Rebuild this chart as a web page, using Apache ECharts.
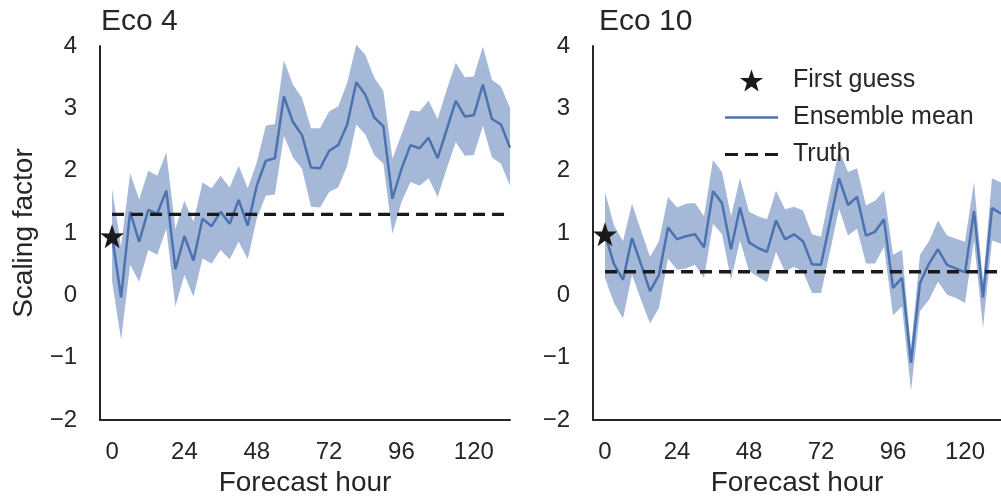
<!DOCTYPE html>
<html>
<head>
<meta charset="utf-8">
<script src="https://cdn.jsdelivr.net/npm/echarts@6/dist/echarts.min.js"></script>
<style>
  html, body { margin: 0; padding: 0; background: #fff; }
  .main { width: 1001px; height: 502px; }
</style>
</head>
<body>
<div class="main"></div>
<script>
// forecast hours (every 3 h)
var hours = [0, 3, 6, 9, 12, 15, 18, 21, 24, 27, 30, 33, 36, 39, 42, 45, 48, 51, 54, 57, 60, 63, 66,
    69, 72, 75, 78, 81, 84, 87, 90, 93, 96, 99, 102, 105, 108, 111, 114, 117, 120, 123, 126, 129, 132];
var hourTicks = [0, 24, 48, 72, 96, 120];

// Eco 4
var eco4Mean = [0.95, -0.03, 1.34, 0.86, 1.37, 1.31, 1.68, 0.42, 0.95, 0.56, 1.23, 1.11, 1.34, 1.15, 1.53,
    1.12, 1.76, 2.16, 2.20, 3.19, 2.78, 2.57, 2.05, 2.04, 2.32, 2.41, 2.74, 3.42, 3.22, 2.85, 2.71, 1.55,
    2.03, 2.41, 2.36, 2.53, 2.20, 2.66, 3.12, 2.87, 2.89, 3.38, 2.83, 2.74, 2.37];
var eco4Upper = [1.71, 0.78, 1.96, 1.54, 2.00, 1.92, 2.29, 1.07, 1.52, 1.18, 1.81, 1.72, 1.92, 1.73, 2.08,
    1.72, 2.13, 2.72, 2.75, 3.77, 3.38, 3.17, 2.68, 2.68, 2.95, 3.03, 3.41, 4.02, 3.86, 3.49, 3.28, 2.19,
    2.58, 2.97, 2.95, 3.12, 2.83, 3.30, 3.73, 3.50, 3.51, 3.99, 3.46, 3.35, 3.01];
var eco4Lower = [0.23, -0.71, 0.49, 0.22, 0.73, 0.65, 1.07, -0.18, 0.33, -0.02, 0.59, 0.51, 0.73, 0.58, 0.86,
    0.58, 1.23, 1.60, 1.62, 2.56, 2.21, 2.03, 1.42, 1.41, 1.66, 1.73, 2.08, 2.74, 2.58, 2.25, 2.11, 0.99,
    1.50, 1.82, 1.76, 1.88, 1.58, 2.03, 2.46, 2.24, 2.25, 2.72, 2.21, 2.11, 1.76];
var eco4Guess = 0.95;
var eco4Truth = 1.30;

// Eco 10
var eco10Mean = [0.98, 0.50, 0.25, 0.92, 0.50, 0.07, 0.33, 1.09, 0.90, 0.95, 0.98, 0.77, 1.67, 1.48, 0.74,
    1.41, 0.85, 0.76, 0.70, 1.20, 0.90, 0.98, 0.87, 0.50, 0.49, 1.18, 1.88, 1.45, 1.58, 0.96, 1.02, 1.22,
    0.12, 0.28, -1.08, 0.20, 0.51, 0.74, 0.49, 0.43, 0.37, 1.35, -0.03, 1.40, 1.31];
var eco10Upper = [1.66, 1.12, 0.87, 1.47, 1.04, 0.62, 0.87, 1.58, 1.41, 1.47, 1.48, 1.27, 2.17, 1.98, 1.27,
    1.88, 1.34, 1.27, 1.22, 1.68, 1.38, 1.42, 1.36, 0.98, 0.94, 1.66, 2.33, 1.98, 2.04, 1.44, 1.52, 1.68,
    0.65, 0.73, -0.84, 0.65, 0.87, 1.20, 0.96, 0.91, 0.86, 1.82, 0.22, 1.88, 1.81];
var eco10Lower = [0.28, -0.12, -0.37, 0.33, -0.07, -0.45, -0.20, 0.59, 0.41, 0.43, 0.49, 0.28, 1.15, 0.98, 0.25,
    0.88, 0.39, 0.30, 0.21, 0.70, 0.38, 0.46, 0.38, 0.04, 0.04, 0.70, 1.39, 0.96, 1.07, 0.51, 0.51, 0.78,
    -0.32, -0.18, -1.53, -0.25, -0.07, 0.22, 0.01, -0.04, -0.12, 0.88, -0.52, 0.88, 0.83];
var eco10Guess = 0.98;
var eco10Truth = 0.38;

var myChart = echarts.init(document.querySelector('.main'))

var FONT = "'Liberation Sans', Arial, sans-serif";
var INK = '#262626';
var BLUE = '#4c72b0';
var BLACK = '#1a1a1a';
var STAR = 'path://M50,0 L61.8,35.1 L97.6,34.5 L69,56 L79.4,90.5 L50,70 L20.6,90.5 L31,56 L2.4,34.5 L38.2,35.1 Z';
// legend glyphs: a plain stroke and a three-dash stroke
var SOLID = 'path://M0,0 H53 V2.4 H0 Z';
var DASHED = 'path://M0,0 H13 V3.2 H0 Z M20,0 H33 V3.2 H20 Z M40,0 H53 V3.2 H40 Z';

function pairs(ys) {
    return hours.map(function (h, i) { return [h, ys[i]]; });
}

function makeX(idx) {
    return {
        type: 'value', gridIndex: idx, min: -4, max: 132,
        name: 'Forecast hour', nameLocation: 'middle', nameGap: 48,
        nameTextStyle: { color: INK, fontSize: 28, fontFamily: FONT },
        axisLine: { onZero: false, lineStyle: { color: INK, width: 2 } },
        axisTick: { show: false },
        splitLine: { show: false },
        axisLabel: { customValues: hourTicks, color: INK, fontSize: 24, fontFamily: FONT, margin: 20 }
    };
}

function makeY(idx) {
    return {
        type: 'value', gridIndex: idx, min: -2, max: 4, interval: 1,
        name: idx === 0 ? 'Scaling factor' : '', nameLocation: 'middle', nameGap: 62,
        nameTextStyle: { color: INK, fontSize: 28, fontFamily: FONT },
        axisLine: { onZero: false, lineStyle: { color: INK, width: 2 } },
        axisTick: { show: false },
        splitLine: { show: false },
        axisLabel: {
            color: INK, fontSize: 24, fontFamily: FONT, margin: 23,
            formatter: function (v) { return v < 0 ? '\u2212' + Math.abs(v) : String(v); }
        }
    };
}

function bandSeries(idx, lower, upper) {
    return {
        type: 'custom', xAxisIndex: idx, yAxisIndex: idx, silent: true, z: 1,
        data: [0],
        renderItem: function (params, api) {
            var pts = [];
            for (var i = 0; i < hours.length; i++) pts.push(api.coord([hours[i], upper[i]]));
            for (var j = hours.length - 1; j >= 0; j--) pts.push(api.coord([hours[j], lower[j]]));
            return {
                type: 'polygon',
                shape: { points: pts },
                style: { fill: 'rgba(76,114,176,0.5)', stroke: null }
            };
        }
    };
}

function panelSeries(idx, mean, lower, upper, guess, truth) {
    return [
        bandSeries(idx, lower, upper),
        {
            name: 'Ensemble mean', type: 'line', xAxisIndex: idx, yAxisIndex: idx,
            data: pairs(mean), showSymbol: false, symbol: 'none', z: 3,
            lineStyle: { color: BLUE, width: 2.5 }, itemStyle: { color: BLUE }
        },
        {
            name: 'Truth', type: 'line', xAxisIndex: idx, yAxisIndex: idx,
            data: [[hours[0], truth], [hours[hours.length - 1], truth]],
            showSymbol: false, symbol: 'none', z: 4,
            lineStyle: { color: BLACK, width: 3.4, type: [12, 7] }, itemStyle: { color: BLACK }
        },
        {
            name: 'First guess', type: 'scatter', xAxisIndex: idx, yAxisIndex: idx,
            data: [[hours[0], guess]], symbol: STAR, symbolSize: 24, clip: false, z: 5,
            itemStyle: { color: BLACK, opacity: 1 }
        }
    ];
}

option = {
    animation: false,
    textStyle: { fontFamily: FONT },
    title: [
        { text: 'Eco 4', left: 96, top: 2, textStyle: { color: INK, fontSize: 30, fontWeight: 'normal', fontFamily: FONT } },
        { text: 'Eco 10', left: 594, top: 2, textStyle: { color: INK, fontSize: 30, fontWeight: 'normal', fontFamily: FONT } }
    ],
    legend: {
        orient: 'vertical', left: 720, top: 63,
        data: [
            { name: 'First guess', icon: STAR, itemStyle: { color: BLACK, opacity: 1 } },
            { name: 'Ensemble mean', icon: SOLID },
            { name: 'Truth', icon: DASHED }
        ],
        itemWidth: 53, itemHeight: 22, itemGap: 12,
        textStyle: { color: INK, fontSize: 25, fontFamily: FONT, padding: [0, 0, 0, 10] },
        selectedMode: false
    },
    grid: [
        { left: 100, top: 46, width: 410, bottom: 79 },
        { left: 593, top: 46, width: 410, bottom: 79 }
    ],
    xAxis: [makeX(0), makeX(1)],
    yAxis: [makeY(0), makeY(1)],
    series: panelSeries(0, eco4Mean, eco4Lower, eco4Upper, eco4Guess, eco4Truth)
        .concat(panelSeries(1, eco10Mean, eco10Lower, eco10Upper, eco10Guess, eco10Truth))
};

myChart.setOption(option);
</script>
</body>
</html>
